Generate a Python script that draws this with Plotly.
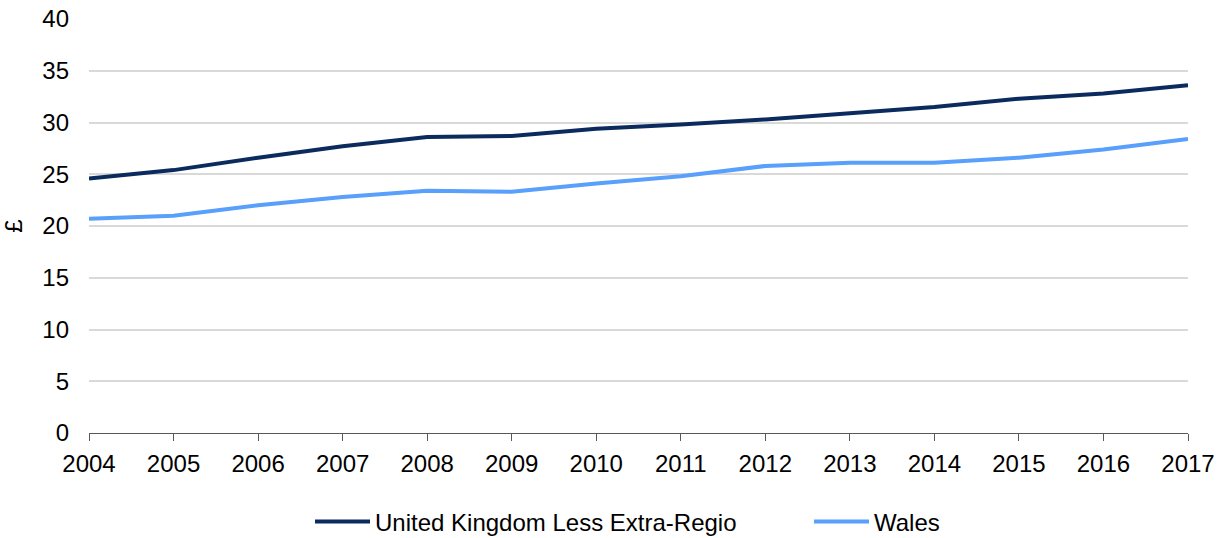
import plotly.graph_objects as go

years = [2004, 2005, 2006, 2007, 2008, 2009, 2010, 2011, 2012, 2013, 2014, 2015, 2016, 2017]
uk_values = [24.6, 25.4, 26.6, 27.7, 28.6, 28.7, 29.4, 29.8, 30.3, 30.9, 31.5, 32.3, 32.8, 33.6]
wales_values = [20.7, 21.0, 22.0, 22.8, 23.4, 23.3, 24.1, 24.8, 25.8, 26.1, 26.1, 26.6, 27.4, 28.4]
y_ticks = [0, 5, 10, 15, 20, 25, 30, 35, 40]

FONT = "Liberation Sans, Arial, sans-serif"

fig = go.Figure()
fig.add_trace(go.Scatter(x=years, y=uk_values, mode="lines", name="United Kingdom Less Extra-Regio",
                         line=dict(color="#0b2b5e", width=4)))
fig.add_trace(go.Scatter(x=years, y=wales_values, mode="lines", name="Wales",
                         line=dict(color="#58a0fb", width=4)))

fig.update_layout(
    width=1225, height=538,
    margin=dict(l=89, r=37, t=19, b=105, autoexpand=False),
    paper_bgcolor="white", plot_bgcolor="white",
    font=dict(family=FONT, size=24, color="#000000"),
    showlegend=True,
    legend=dict(orientation="h", xref="container", yref="container",
                x=310 / 1225, xanchor="left", y=(538 - 522) / 538, yanchor="middle",
                font=dict(size=24), itemwidth=55, tracegroupgap=0, entrywidth=429,
                bgcolor="rgba(0,0,0,0)"),
    xaxis=dict(range=[2004, 2017], tickmode="array", tickvals=years, ticktext=[str(y) for y in years],
               showgrid=False, showline=True, linecolor="#595959", linewidth=1,
               ticks="outside", ticklen=7, tickcolor="#595959", tickwidth=1,
               ticklabelstandoff=2, zeroline=False, fixedrange=True, automargin=False),
    yaxis=dict(range=[0, 40], tickmode="array", tickvals=y_ticks,
               showgrid=True, gridcolor="#d9d9d9", gridwidth=1.5,
               showline=False, zeroline=False, ticks="", ticklabelstandoff=19,
               ticklabeloverflow="allow",
               title=dict(text="£", standoff=16, font=dict(size=24)), automargin=False),
)

fig.write_html("out.html", config={"displayModeBar": False},
               post_script="document.body.style.margin='0';")
